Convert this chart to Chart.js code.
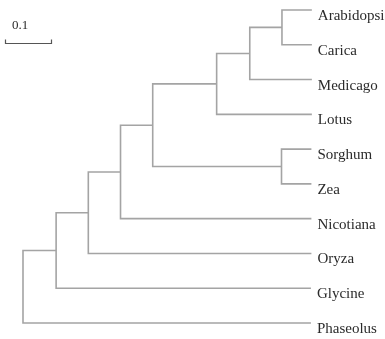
<!DOCTYPE html>
<html>
<head>
<meta charset="utf-8">
<script src="https://cdn.jsdelivr.net/npm/chart.js@4"></script>
<style>
  html, body { margin: 0; padding: 0; background: #fff; }
  #wrap { width: 385px; height: 339px; }
</style>
</head>
<body>
<div id="wrap"><canvas id="chart"></canvas></div>
<script>
// leaves top to bottom
const leaves = ['Arabidopsis', 'Carica', 'Medicago', 'Lotus', 'Sorghum', 'Zea', 'Nicotiana', 'Oryza', 'Glycine', 'Phaseolus'];
// internal nodes, each one joins two children (branch length node -> child)
const nodes = ['n1', 'n2', 'n3', 'n4', 'n5', 'n6', 'n7', 'n8', 'root'];
const leftChild = ['Arabidopsis', 'n1', 'n2', 'Sorghum', 'n3', 'n5', 'n6', 'n7', 'n8'];
const rightChild = ['Carica', 'Medicago', 'Lotus', 'Zea', 'n4', 'Nicotiana', 'Oryza', 'Glycine', 'Phaseolus'];
const leftLength = [0.065, 0.070, 0.072, 0.065, 0.139, 0.070, 0.070, 0.070, 0.072];
const rightLength = [0.065, 0.135, 0.207, 0.065, 0.280, 0.415, 0.485, 0.554, 0.626];
const scaleBar = 0.1;

const lineColor = '#a4a4a4';
const textColor = '#2b2b2b';

// positions: x = distance from root, y = leaf order
const posX = { root: 0 };
const posY = {};
leaves.forEach((name, i) => { posY[name] = i; });
nodes.forEach((n, i) => { posY[n] = (posY[leftChild[i]] + posY[rightChild[i]]) / 2; });
for (let i = nodes.length - 1; i >= 0; i--) {
    posX[leftChild[i]] = posX[nodes[i]] + leftLength[i];
    posX[rightChild[i]] = posX[nodes[i]] + rightLength[i];
}

const datasets = nodes.map((n, i) => ({
    data: [
        { x: posX[leftChild[i]], y: posY[leftChild[i]] },
        { x: posX[n], y: posY[leftChild[i]] },
        { x: posX[n], y: posY[rightChild[i]] },
        { x: posX[rightChild[i]], y: posY[rightChild[i]] }
    ],
    showLine: true,
    borderColor: lineColor,
    borderWidth: 1.6,
    pointRadius: 0,
    tension: 0,
    clip: false
}));

const treeText = {
    id: 'treeText',
    afterDraw(chart) {
        const ctx = chart.ctx;
        const xs = chart.scales.x, ys = chart.scales.y;
        ctx.save();
        ctx.fillStyle = textColor;
        ctx.textAlign = 'left';
        ctx.textBaseline = 'alphabetic';
        ctx.font = '15px "Liberation Serif", "Times New Roman", serif';
        leaves.forEach((name, i) => {
            ctx.fillText(name, xs.getPixelForValue(posX[name]) + 6, ys.getPixelForValue(i) + 10);
        });
        // scale bar
        const len = xs.getPixelForValue(scaleBar) - xs.getPixelForValue(0);
        const x0 = 5.5, y0 = 43.5;
        ctx.strokeStyle = '#555';
        ctx.lineWidth = 1.2;
        ctx.beginPath();
        ctx.moveTo(x0, y0 - 4);
        ctx.lineTo(x0, y0);
        ctx.lineTo(x0 + len, y0);
        ctx.lineTo(x0 + len, y0 - 4);
        ctx.stroke();
        ctx.font = '13px "Liberation Serif", "Times New Roman", serif';
        ctx.fillText(String(scaleBar), x0 + 6.5, 29);
        ctx.restore();
    }
};

new Chart(document.getElementById('chart'), {
    type: 'scatter',
    data: { datasets: datasets },
    options: {
        responsive: true,
        maintainAspectRatio: false,
        animation: false,
        layout: { padding: 0 },
        plugins: { legend: { display: false }, tooltip: { enabled: false } },
        scales: {
            x: { type: 'linear', display: false, min: -0.05, max: 0.787 },
            y: { type: 'linear', display: false, reverse: true, min: -0.2875, max: 9.46 }
        }
    },
    plugins: [treeText]
});
</script>
</body>
</html>
